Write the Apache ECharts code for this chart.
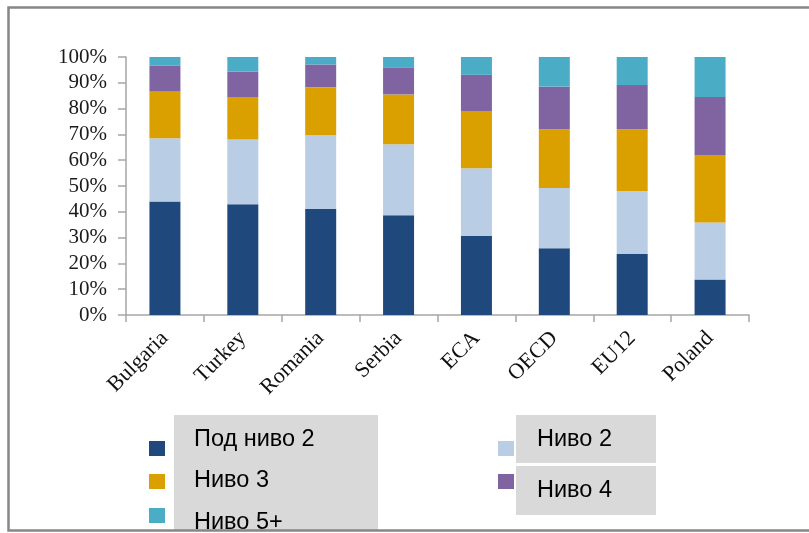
<!DOCTYPE html>
<html>
<head>
<meta charset="utf-8">
<script src="https://cdn.jsdelivr.net/npm/echarts@6/dist/echarts.min.js"></script>
<style>
    html, body { margin: 0; padding: 0; background: #ffffff; }
    #main { width: 809px; height: 533px; }
</style>
</head>
<body>
<div id="main"></div>
<script>
// категории и стойности (в %)
const categories = ['Bulgaria', 'Turkey', 'Romania', 'Serbia', 'ECA', 'OECD', 'EU12', 'Poland']
const seriesNames = ['Под ниво 2', 'Ниво 2', 'Ниво 3', 'Ниво 4', 'Ниво 5+']
const belowLevel2 = [44.0, 42.9, 41.1, 38.7, 30.6, 25.9, 23.6, 13.8]
const level2 = [24.5, 25.1, 28.6, 27.5, 26.3, 23.3, 24.5, 22.1]
const level3 = [18.1, 16.5, 18.6, 19.3, 22.2, 22.8, 23.9, 26.1]
const level4 = [10.0, 9.8, 8.8, 10.5, 14.0, 16.5, 17.1, 22.5]
const level5 = [3.4, 5.7, 2.9, 4.0, 6.9, 11.5, 10.9, 15.5]

const colors = ['#1f497d', '#b9cde5', '#d9a000', '#8064a2', '#4bacc6']
const values = [belowLevel2, level2, level3, level4, level5]

var myChart = echarts.init(document.getElementById('main'));

// легенда - по един компонент за всеки маркер
const legendPos = [
    { left: 149, top: 441 }, // Под ниво 2
    { left: 498, top: 441 }, // Ниво 2
    { left: 149, top: 474 }, // Ниво 3
    { left: 498, top: 474 }, // Ниво 4
    { left: 149, top: 508 }  // Ниво 5+
]
const legends = seriesNames.map((name, i) => ({
    data: [name],
    left: legendPos[i].left,
    top: legendPos[i].top,
    padding: 0,
    icon: 'rect',
    itemWidth: 16,
    itemHeight: 15,
    selectedMode: false,
    formatter: () => '',
    textStyle: { fontSize: 10 }
}))

// сивите полета с текста на легендата
const labelPos = [
    { x: 194, y: 440 },
    { x: 537, y: 440 },
    { x: 194, y: 481 },
    { x: 537, y: 491 },
    { x: 194, y: 523 }
]
const graphics = [
    { type: 'rect', z: 1, shape: { x: 174, y: 415, width: 204, height: 116 }, style: { fill: '#d9d9d9' } },
    { type: 'rect', z: 1, shape: { x: 516, y: 415, width: 140, height: 48 }, style: { fill: '#d9d9d9' } },
    { type: 'rect', z: 1, shape: { x: 516, y: 466, width: 140, height: 49 }, style: { fill: '#d9d9d9' } }
]
seriesNames.forEach((name, i) => {
    graphics.push({
        type: 'text', z: 2,
        x: labelPos[i].x, y: labelPos[i].y,
        style: {
            text: name,
            fontSize: 23.5,
            fontFamily: '"Liberation Sans", Arial, sans-serif',
            fill: '#000000',
            verticalAlign: 'middle'
        }
    })
})
// рамка
graphics.push({
    type: 'rect', z: 100,
    shape: { x: 8.5, y: 7.5, width: 900, height: 523 },
    style: { fill: null, stroke: '#878787', lineWidth: 2.5 }
})

let option = {
    animation: false,
    color: colors,
    grid: {
        left: 126,
        right: 60,
        top: 57,
        bottom: 218
    },
    legend: legends,
    xAxis: {
        type: 'category',
        data: categories,
        axisLine: { lineStyle: { color: '#a6a6a6', width: 1.5 } },
        axisTick: { show: true, length: 7, lineStyle: { color: '#a6a6a6', width: 1.5 } },
        axisLabel: {
            rotate: 45,
            margin: 20,
            fontSize: 22,
            fontFamily: '"Liberation Serif", "Times New Roman", serif',
            color: '#111111'
        }
    },
    yAxis: {
        type: 'value',
        min: 0,
        max: 100,
        interval: 10,
        splitLine: { show: false },
        axisLine: { show: true, lineStyle: { color: '#a6a6a6', width: 1.5 } },
        axisTick: { show: true, length: 8, lineStyle: { color: '#a6a6a6', width: 1.5 } },
        axisLabel: {
            formatter: '{value}%',
            margin: 19,
            fontSize: 21,
            fontFamily: '"Liberation Serif", "Times New Roman", serif',
            color: '#1a1a1a'
        }
    },
    graphic: graphics,
    series: seriesNames.map((name, i) => ({
        name: name,
        type: 'bar',
        stack: 'total',
        barWidth: 31,
        data: values[i]
    }))
}
myChart.setOption(option);
</script>
</body>
</html>
